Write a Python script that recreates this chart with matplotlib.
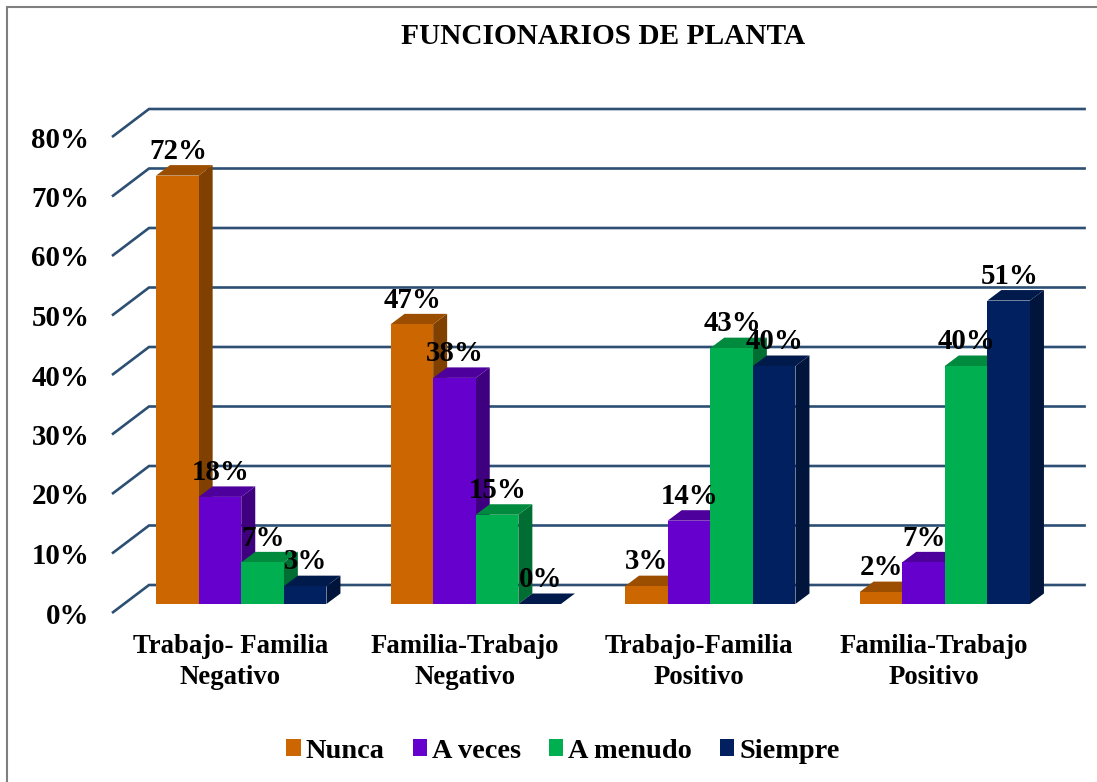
import matplotlib
matplotlib.use("Agg")
import matplotlib.pyplot as plt
from matplotlib.patches import Patch, Rectangle
from matplotlib.transforms import ScaledTranslation

categories = ["Trabajo- Familia\nNegativo", "Familia-Trabajo\nNegativo",
              "Trabajo-Familia\nPositivo", "Familia-Trabajo\nPositivo"]
series_names = ["Nunca", "A veces", "A menudo", "Siempre"]
nunca = [72, 47, 3, 2]
a_veces = [18, 38, 14, 7]
a_menudo = [7, 15, 43, 40]
siempre = [3, 0, 40, 51]
y_ticks = [0, 10, 20, 30, 40, 50, 60, 70, 80]
title = "FUNCIONARIOS DE PLANTA"

front_colors = ["#CC6600", "#6600CC", "#00B050", "#002060"]
top_colors = ["#9C4E00", "#4E009C", "#008A3E", "#001A4C"]
side_colors = ["#7F4000", "#3F007F", "#006E32", "#00143C"]
grid_color = "#2C4F73"

plt.rcParams["font.family"] = ["Liberation Serif", "DejaVu Serif"]
plt.rcParams["font.weight"] = "bold"

W, H = 1097, 782
fig = plt.figure(figsize=(W / 100, H / 100), dpi=100, facecolor="white")

# Plot area in pixels: front wall edge of the 3-D floor
left, right, y0_px, y80_px = 112, 1050, 613, 137
ax = fig.add_axes([left / W, 1 - y0_px / H, (right - left) / W, (y0_px - y80_px) / H])
ax.set_xlim(0, 4)
ax.set_ylim(0, 80)
ax.patch.set_alpha(0)
for s in ax.spines.values():
    s.set_visible(False)

ux = (right - left) / 4          # px per category
uy = (y0_px - y80_px) / 80       # px per percent
wall_dx, wall_dy = 37 / ux, 28 / uy
front_dx, front_dy = 12 / ux, 9 / uy
bar_dx, bar_dy = 14 / ux, 10.5 / uy
bar_w = 42.6 / ux

# Gridlines: slanted floor/wall edge, then the back wall line
for v in y_ticks:
    ax.plot([0, wall_dx, 4 + wall_dx * 0.97], [v, v + wall_dy, v + wall_dy],
            color=grid_color, lw=1.9, clip_on=False, zorder=1,
            solid_joinstyle="miter", solid_capstyle="butt")

all_series = [nunca, a_veces, a_menudo, siempre]
z = 2
for cat in range(len(categories)):
    for k, vals in enumerate(all_series):
        v = vals[cat]
        x0 = cat + 0.5 + (k - 2) * bar_w + front_dx
        x1 = x0 + bar_w
        b = front_dy
        t = b + v
        ax.fill([x1, x1 + bar_dx, x1 + bar_dx, x1], [b, b + bar_dy, t + bar_dy, t],
                color=side_colors[k], lw=0, zorder=z, clip_on=False)
        ax.fill([x0, x1, x1 + bar_dx, x0 + bar_dx], [t, t, t + bar_dy, t + bar_dy],
                color=top_colors[k], lw=0, zorder=z + 0.1, clip_on=False)
        ax.bar(x0, v, width=bar_w, bottom=b, align="edge", color=front_colors[k],
               lw=0, zorder=z + 0.2, clip_on=False)
        z += 1
for cat in range(len(categories)):
    for k, vals in enumerate(all_series):
        v = vals[cat]
        xc = cat + 0.5 + (k - 2) * bar_w + front_dx + bar_w / 2
        ax.annotate(f"{v}%", (xc, front_dy + v), xytext=(0.5, 17.5), textcoords="offset points",
                    ha="center", va="center", fontsize=20.8, fontweight="bold",
                    color="black", zorder=100, annotation_clip=False)

ax.set_yticks(y_ticks)
ax.set_yticklabels([f"{v}%" for v in y_ticks], fontsize=20.8, fontweight="bold", va="center")
ax.set_xticks([i + 0.5 + 1 / ux for i in range(len(categories))])
ax.set_xticklabels(categories, fontsize=19.3, fontweight="bold", linespacing=1.34)
ax.tick_params(axis="y", length=0, pad=16.3)
ax.tick_params(axis="x", length=0, pad=15)
shift = ScaledTranslation(0, -3 / 100, fig.dpi_scale_trans)
for lab in ax.get_yticklabels():
    lab.set_transform(lab.get_transform() + shift)

fig.text(603 / W, 1 - 37 / H, title, ha="center", va="center", fontsize=21.2, fontweight="bold")

handles = [Patch(facecolor=c, edgecolor="none") for c in front_colors]
fig.legend(handles, series_names, loc="center", bbox_to_anchor=(563 / W, 1 - 751 / H), ncol=4,
           frameon=False, prop={"size": 20.4, "weight": "bold"}, handlelength=0.5, handleheight=0.5,
           handletextpad=0.17, columnspacing=1.0, borderpad=0)

fig.add_artist(Rectangle((6.5 / W, -0.01), 1.1, 1 - 6.5 / H + 0.01, transform=fig.transFigure,
                         facecolor="none", edgecolor="#7F7F7F", lw=1.5, zorder=-5))

fig.savefig("out.png", dpi=100)
